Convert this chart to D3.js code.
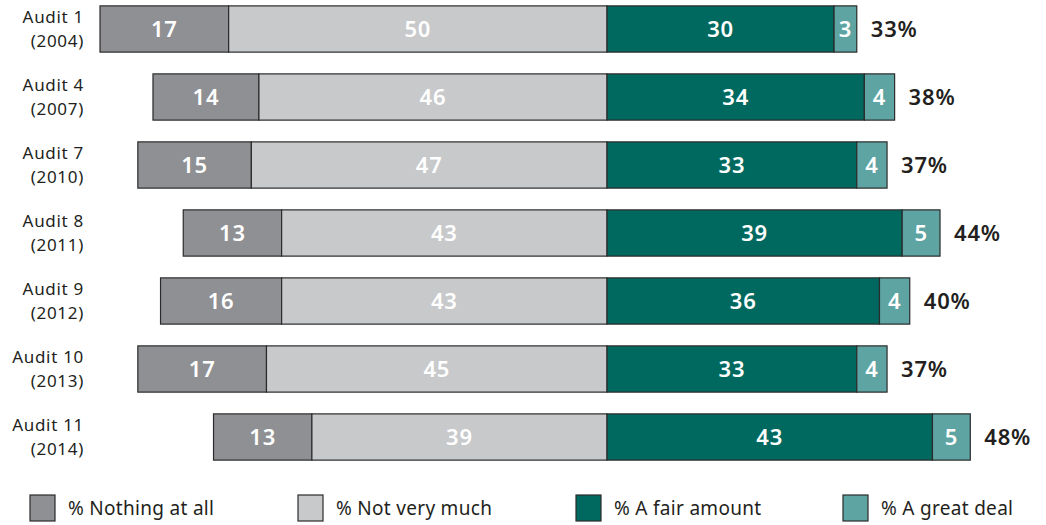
<!DOCTYPE html>
<html>
<head>
<meta charset="utf-8">
<script src="https://cdn.jsdelivr.net/npm/d3@7"></script>
<style>
  body { margin: 0; background: #fff; }
  svg { display: block; font-family: "Noto Sans", "Open Sans", sans-serif; }
</style>
</head>
<body>
<svg id="chart" width="1046" height="525"></svg>
<script>
// Audits and year of each survey
const audits = ["Audit 1", "Audit 4", "Audit 7", "Audit 8", "Audit 9", "Audit 10", "Audit 11"];
const years = ["(2004)", "(2007)", "(2010)", "(2011)", "(2012)", "(2013)", "(2014)"];

// Response shares (%) per audit
const nothingAtAll = [17, 14, 15, 13, 16, 17, 13];
const notVeryMuch  = [50, 46, 47, 43, 43, 45, 39];
const aFairAmount  = [30, 34, 33, 39, 36, 33, 43];
const aGreatDeal   = [3, 4, 4, 5, 4, 4, 5];
const netTotals    = ["33%", "38%", "37%", "44%", "40%", "37%", "48%"];

const seriesNames = ["% Nothing at all", "% Not very much", "% A fair amount", "% A great deal"];
const seriesColors = ["#8f9093", "#c8c9cb", "#00695f", "#5ea4a3"];

const svg = d3.select("#chart");

// Diverging axis: negatives to the left of zero, positives to the right
const x = d3.scaleLinear().domain([-67, 51]).range([100, 993]);
const y = d3.scaleBand().domain(audits).range([-5, 471]).paddingInner(0.32).paddingOuter(0.16);

const rows = audits.map((a, i) => {
  const segs = [
    { k: 0, x0: -(nothingAtAll[i] + notVeryMuch[i]), x1: -notVeryMuch[i], v: nothingAtAll[i] },
    { k: 1, x0: -notVeryMuch[i], x1: 0, v: notVeryMuch[i] },
    { k: 2, x0: 0, x1: aFairAmount[i], v: aFairAmount[i] },
    { k: 3, x0: aFairAmount[i], x1: aFairAmount[i] + aGreatDeal[i], v: aGreatDeal[i] }
  ];
  return { audit: a, year: years[i], segs, end: aFairAmount[i] + aGreatDeal[i], total: netTotals[i] };
});

const row = svg.selectAll("g.row").data(rows).join("g")
  .attr("class", "row")
  .attr("transform", d => `translate(0,${y(d.audit)})`);

row.selectAll("rect").data(d => d.segs).join("rect")
  .attr("x", s => x(s.x0))
  .attr("width", s => x(s.x1) - x(s.x0))
  .attr("y", 0)
  .attr("height", y.bandwidth())
  .attr("fill", s => seriesColors[s.k])
  .attr("stroke", "#2b2b2b")
  .attr("stroke-width", 1.2);

row.selectAll("text.val").data(d => d.segs).join("text")
  .attr("class", "val")
  .attr("x", s => (x(s.x0) + x(s.x1)) / 2)
  .attr("y", y.bandwidth() / 2)
  .attr("dy", "0.36em")
  .attr("text-anchor", "middle")
  .attr("fill", "#fff")
  .attr("font-size", 22)
  .attr("font-weight", 600)
  .attr("letter-spacing", 0.8)
  .text(s => s.v);

row.append("text")
  .attr("x", d => x(d.end) + 14)
  .attr("y", y.bandwidth() / 2)
  .attr("dy", "0.36em")
  .attr("fill", "#231f20")
  .attr("font-size", 22)
  .attr("font-weight", 600)
  .attr("letter-spacing", 0.8)
  .text(d => d.total);

// Category labels, two lines, right aligned
const lab = row.append("text")
  .attr("text-anchor", "end")
  .attr("fill", "#231f20")
  .attr("font-size", 17)
  .attr("letter-spacing", 0.7);
lab.append("tspan").attr("x", 84).attr("y", y.bandwidth() / 2 - 6).text(d => d.audit);
lab.append("tspan").attr("x", 84).attr("y", y.bandwidth() / 2 + 18).text(d => d.year);

// Legend
const legendX = [30, 298, 576, 843];
const leg = svg.selectAll("g.leg").data(seriesNames).join("g")
  .attr("class", "leg")
  .attr("transform", (d, i) => `translate(${legendX[i]},495)`);
leg.append("rect")
  .attr("width", 25).attr("height", 26)
  .attr("fill", (d, i) => seriesColors[i])
  .attr("stroke", "#2b2b2b").attr("stroke-width", 1.2);
leg.append("text")
  .attr("x", 38).attr("y", 13).attr("dy", "0.36em")
  .attr("fill", "#231f20").attr("font-size", 19)
  .attr("letter-spacing", 0.3)
  .text(d => d);
</script>
</body>
</html>
